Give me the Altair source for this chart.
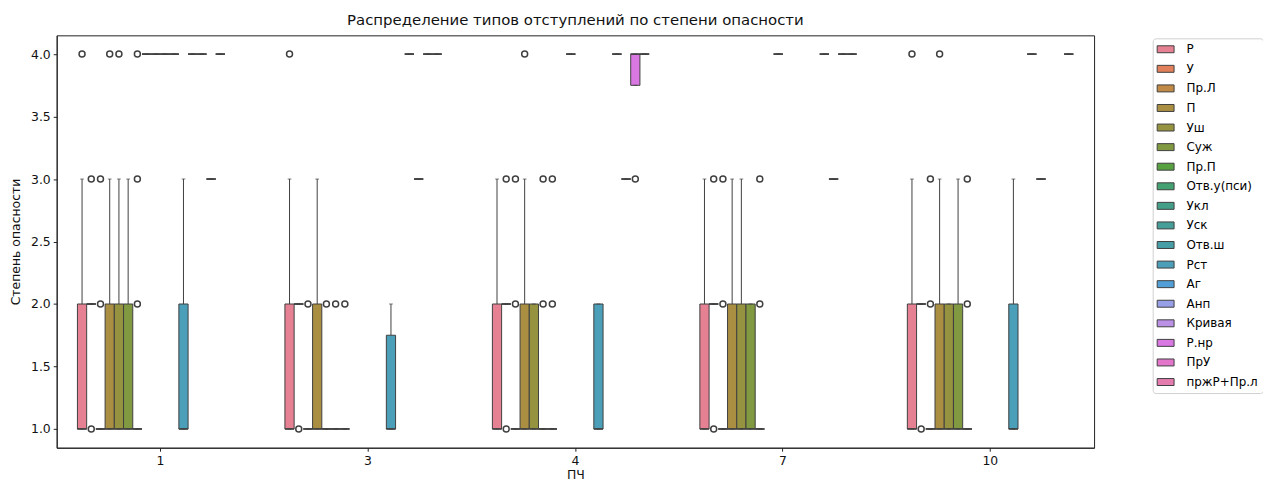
import math
import colorsys
import altair as alt
import pandas as pd

# ---------------- data ----------------
types = ["Р", "У", "Пр.Л", "П", "Уш", "Суж", "Пр.П", "Отв.у(пси)", "Укл", "Уск",
         "Отв.ш", "Рст", "Аг", "Анп", "Кривая", "Р.нр", "ПрУ", "пржР+Пр.л"]
pch_order = ["1", "3", "4", "7", "10"]

box_pch = (["1"] * 16 + ["3"] * 12 + ["4"] * 13 + ["7"] * 12 + ["10"] * 11)
box_type = [
    # ПЧ 1
    "Р", "У", "Пр.Л", "П", "Уш", "Суж", "Пр.П", "Отв.у(пси)", "Укл", "Уск", "Отв.ш",
    "Рст", "Аг", "Анп", "Кривая", "Р.нр",
    # ПЧ 3
    "Р", "У", "Пр.Л", "П", "Уш", "Суж", "Пр.П", "Рст", "Анп", "Кривая", "Р.нр", "ПрУ",
    # ПЧ 4
    "Р", "У", "Пр.Л", "П", "Уш", "Суж", "Пр.П", "Укл", "Рст", "Анп", "Кривая", "Р.нр", "ПрУ",
    # ПЧ 7
    "Р", "У", "Пр.Л", "П", "Уш", "Суж", "Пр.П", "Укл", "Анп", "Кривая", "Р.нр", "ПрУ",
    # ПЧ 10
    "Р", "У", "Пр.Л", "П", "Уш", "Суж", "Пр.П", "Рст", "Анп", "Кривая", "пржР+Пр.л",
]
q1 = [1, 2, 1, 1, 1, 1, 1, 4, 4, 4, 4, 1, 4, 4, 3, 4,
      1, 2, 1, 1, 1, 1, 1, 1, 4, 3, 4, 4,
      1, 2, 1, 1, 1, 1, 1, 4, 1, 4, 3, 3.75, 4,
      1, 2, 1, 1, 1, 1, 1, 4, 4, 3, 4, 4,
      1, 2, 1, 1, 1, 1, 1, 1, 4, 3, 4]
med = [1, 2, 1, 1, 1, 1, 1, 4, 4, 4, 4, 1, 4, 4, 3, 4,
       1, 2, 1, 1, 1, 1, 1, 1, 4, 3, 4, 4,
       1, 2, 1, 1, 1, 1, 1, 4, 1, 4, 3, 4, 4,
       1, 2, 1, 1, 1, 1, 1, 4, 4, 3, 4, 4,
       1, 2, 1, 1, 1, 1, 1, 1, 4, 3, 4]
q3 = [2, 2, 1, 2, 2, 2, 1, 4, 4, 4, 4, 2, 4, 4, 3, 4,
      2, 2, 1, 2, 1, 1, 1, 1.75, 4, 3, 4, 4,
      2, 2, 1, 2, 2, 1, 1, 4, 2, 4, 3, 4, 4,
      2, 2, 1, 2, 2, 2, 1, 4, 4, 3, 4, 4,
      2, 2, 1, 2, 2, 2, 1, 2, 4, 3, 4]
whislo = [1, 2, 1, 1, 1, 1, 1, 4, 4, 4, 4, 1, 4, 4, 3, 4,
          1, 2, 1, 1, 1, 1, 1, 1, 4, 3, 4, 4,
          1, 2, 1, 1, 1, 1, 1, 4, 1, 4, 3, 3.75, 4,
          1, 2, 1, 1, 1, 1, 1, 4, 4, 3, 4, 4,
          1, 2, 1, 1, 1, 1, 1, 1, 4, 3, 4]
whishi = [3, 2, 1, 3, 3, 3, 1, 4, 4, 4, 4, 3, 4, 4, 3, 4,
          3, 2, 1, 3, 1, 1, 1, 2, 4, 3, 4, 4,
          3, 2, 1, 3, 2, 1, 1, 4, 2, 4, 3, 4, 4,
          3, 2, 1, 3, 3, 2, 1, 4, 4, 3, 4, 4,
          3, 2, 1, 3, 2, 3, 1, 3, 4, 3, 4]

out_pch = (["1"] * 10 + ["3"] * 6 + ["4"] * 10 + ["7"] * 6 + ["10"] * 7)
out_type = [
    "Р", "У", "У", "Пр.Л", "Пр.Л", "П", "Уш", "Пр.П", "Пр.П", "Пр.П",
    "Р", "У", "Пр.Л", "Уш", "Суж", "Пр.П",
    "У", "У", "Пр.Л", "Пр.Л", "П", "Суж", "Суж", "Пр.П", "Пр.П", "Р.нр",
    "У", "У", "Пр.Л", "Пр.Л", "Пр.П", "Пр.П",
    "Р", "У", "Пр.Л", "Пр.Л", "П", "Пр.П", "Пр.П",
]
out_val = [4, 1, 3, 2, 3, 4, 4, 2, 3, 4,
           4, 1, 2, 2, 2, 2,
           1, 3, 2, 3, 4, 2, 3, 2, 3, 3,
           1, 3, 2, 3, 2, 3,
           4, 1, 2, 3, 4, 2, 3]

# ---------------- palette (seaborn husl, desaturated 0.75) ----------------
_m = [[3.240969941904521, -1.537383177570093, -0.498610760293],
      [-0.96924363628087, 1.87596750150772, 0.041555057407175],
      [0.055630079696993, -0.20397695888897, 1.056971514242878]]
_refU, _refV, _kappa, _eps = 0.19783000664283, 0.46831999493879, 903.2962962, 0.0088564516


def _max_chroma(L, H):
    hrad = math.radians(H)
    sinH, cosH = math.sin(hrad), math.cos(hrad)
    sub1 = (L + 16) ** 3 / 1560896.0
    sub2 = sub1 if sub1 > _eps else L / _kappa
    res = float("inf")
    for m1, m2, m3 in _m:
        top = (0.99915 * m1 + 1.05122 * m2 + 1.14460 * m3) * sub2
        rb = 0.86330 * m3 - 0.17266 * m2
        lb = 0.12949 * m3 - 0.38848 * m1
        bottom = (rb * sinH + lb * cosH) * sub2
        for t in (0.0, 1.0):
            C = L * (top - 1.05122 * t) / (bottom + 0.17266 * sinH * t)
            if 0.0 < C < res:
                res = C
    return res


def _husl_to_rgb(H, S, L):
    C = _max_chroma(L, H) / 100.0 * S
    U, V = math.cos(math.radians(H)) * C, math.sin(math.radians(H)) * C
    varY = ((L + 16.0) / 116.0) ** 3 if L > 8 else L / _kappa
    varU = U / (13.0 * L) + _refU
    varV = V / (13.0 * L) + _refV
    Y = varY
    X = -(9.0 * Y * varU) / ((varU - 4.0) * varV - varU * varV)
    Z = (9.0 * Y - 15.0 * varV * Y - varV * X) / (3.0 * varV)
    out = []
    for row in _m:
        c = row[0] * X + row[1] * Y + row[2] * Z
        c = 12.92 * c if c <= 0.0031308 else 1.055 * c ** (1 / 2.4) - 0.055
        out.append(min(1.0, max(0.0, c)))
    return out


def _hex(rgb):
    return "#%02x%02x%02x" % tuple(int(round(v * 255)) for v in rgb)


n = len(types)
raw = [_husl_to_rgb(((i / n) + 0.01) % 1 * 359, 0.9 * 99, 0.65 * 99) for i in range(n)]
fills = []
lights = []
for rgb in raw:
    h, l, s = colorsys.rgb_to_hls(*rgb)
    lights.append(l)
    fills.append(_hex(colorsys.hls_to_rgb(h, l, s * 0.75)))
lum = min(lights) * 0.6
LINE = _hex((lum, lum, lum))

# ---------------- chart ----------------
boxes = pd.DataFrame(dict(pch=box_pch, type=box_type, q1=q1, med=med, q3=q3,
                          lo=whislo, hi=whishi))
fliers = pd.DataFrame(dict(pch=out_pch, type=out_type, val=out_val))

W, H = 1044, 415
SLOT = W / 5 * 0.8 / len(types)
FONT = "DejaVu Sans"

xenc = alt.X("pch:N", sort=pch_order,
             scale=alt.Scale(domain=pch_order, paddingInner=0.2, paddingOuter=0.1),
             axis=alt.Axis(title="ПЧ", labelAngle=0, labelFontSize=12.5, titleFontSize=12.5,
                           titleFontWeight="normal", tickSize=3.5, labelPadding=3,
                           titlePadding=2, grid=False))
xoff = alt.XOffset("type:N", scale=alt.Scale(domain=types, paddingInner=0, paddingOuter=0))
yscale = alt.Scale(domain=[0.85, 4.15], nice=False, zero=False)
yaxis = alt.Axis(title="Степень опасности", values=[1, 1.5, 2, 2.5, 3, 3.5, 4], format=".1f",
                 labelFontSize=12.5, titleFontSize=12.5, titleFontWeight="normal",
                 tickSize=3.5, labelPadding=3, titlePadding=8, grid=False)

legend = alt.Legend(title=None, orient="none", legendX=1103, legendY=3,
                    symbolType="M-1.7,-0.7H1.7V0.7H-1.7Z", symbolSize=100,
                    symbolStrokeColor=LINE, symbolStrokeWidth=1, symbolOffset=2,
                    labelFontSize=12, labelFont=FONT, labelOffset=15, rowPadding=7.7,
                    padding=5, strokeColor="#d0d0d0", fillColor="white", cornerRadius=3,
                    labelLimit=200)
color = alt.Color("type:N", scale=alt.Scale(domain=types, range=fills), legend=legend)

base = alt.Chart(boxes)
box = base.mark_bar(stroke=LINE, strokeWidth=1).encode(
    x=xenc, xOffset=xoff, y=alt.Y("q1:Q", scale=yscale, axis=yaxis), y2="q3:Q", color=color)
median = base.mark_bar(stroke=LINE, strokeWidth=1, fillOpacity=0).encode(
    x=xenc, xOffset=xoff, y=alt.Y("med:Q", scale=yscale), y2="med:Q")
wh_up = base.mark_rule(stroke=LINE, strokeWidth=1).encode(
    x=xenc, xOffset=xoff, y=alt.Y("q3:Q", scale=yscale), y2="hi:Q")
wh_lo = base.mark_rule(stroke=LINE, strokeWidth=1).encode(
    x=xenc, xOffset=xoff, y=alt.Y("lo:Q", scale=yscale), y2="q1:Q")
cap_up = base.mark_tick(color=LINE, thickness=1, size=SLOT * 0.4).encode(
    x=xenc, xOffset=xoff, y=alt.Y("hi:Q", scale=yscale))
cap_lo = base.mark_tick(color=LINE, thickness=1, size=SLOT * 0.4).encode(
    x=xenc, xOffset=xoff, y=alt.Y("lo:Q", scale=yscale))
pts = alt.Chart(fliers).mark_point(shape="circle", filled=False, size=36, stroke=LINE,
                                   strokeWidth=1.5, opacity=1).encode(
    x=xenc, xOffset=xoff, y=alt.Y("val:Q", scale=yscale))

chart = alt.layer(box, median, wh_up, wh_lo, cap_up, cap_lo, pts).properties(
    width=W, height=H,
    title=alt.TitleParams("Распределение типов отступлений по степени опасности",
                          fontSize=15, font=FONT, fontWeight="normal", offset=7, color="#111"),
    autosize=alt.AutoSizeParams(type="none"),
    padding={"left": 49, "top": 26, "right": 170, "bottom": 34},
).configure(font=FONT).configure_view(stroke="#222", strokeWidth=1).configure_axis(
    domainColor="#222", tickColor="#222", labelColor="#111", titleColor="#111",
    labelFont=FONT, titleFont=FONT)

chart.save("out.html", embed_options={"renderer": "svg", "actions": False})
